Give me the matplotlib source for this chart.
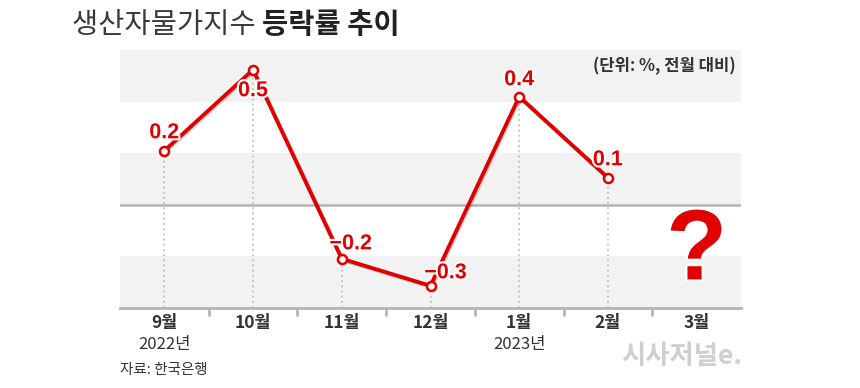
import matplotlib
matplotlib.use("Agg")
import matplotlib.pyplot as plt
import matplotlib.patheffects as pe
from matplotlib.patches import Rectangle

plt.rcParams['font.family'] = ['Noto Sans CJK KR', 'DejaVu Sans']

months = ['9월', '10월', '11월', '12월', '1월', '2월', '3월']
years = {0: '2022년', 4: '2023년'}
values = [0.2, 0.5, -0.2, -0.3, 0.4, 0.1]
value_labels = ['0.2', '0.5', '−0.2', '−0.3', '0.4', '0.1']
label_offsets_px = [(0, 18), (0, -21), (9, 15), (15, 13), (0, 17), (0, 18)]

RED = '#e00000'
GRAY_BAND = '#f2f2f2'
AXIS_GRAY = '#b4b4b4'
TXT = '#333333'

W, H = 860, 388
fig = plt.figure(figsize=(W / 100, H / 100), dpi=100)
ax = fig.add_axes([120 / W, (H - 308) / H, 621 / W, 258 / H])

R = 0.955
ax.set_ylim(-0.4 * R, 0.6 * R)
ax.set_xlim(-0.5, 6.5)

# bands (axes coordinates)
for i, col in enumerate([GRAY_BAND, 'white', GRAY_BAND, 'white', GRAY_BAND]):
    ax.add_patch(Rectangle((0, 1 - 0.2 * (i + 1)), 1, 0.2, transform=ax.transAxes,
                           facecolor=col, edgecolor='none', zorder=0))

ax.axhline(0, color=AXIS_GRAY, lw=1.8, zorder=1)

xs = list(range(len(values)))
ymin = ax.get_ylim()[0]
for x, v in zip(xs, values):
    ax.plot([x, x], [ymin, v], color='#b8b8b8', lw=1.1, ls=(0, (1.2, 2.2)), zorder=1)

ax.plot(xs, values, color=RED, lw=2.8, zorder=3, solid_joinstyle='miter',
        path_effects=[pe.SimpleLineShadow(offset=(1, -1), alpha=0.15), pe.Normal()])
ax.plot(xs, values, ls='none', marker='o', ms=6.5, mfc='white', mec=RED, mew=1.8, zorder=4)

for x, v, lab, (dx, dy) in zip(xs, values, value_labels, label_offsets_px):
    ax.annotate(lab, (x, v), xytext=(dx * 0.72, dy * 0.72), textcoords='offset points',
                ha='center', va='center', color=RED, fontsize=15.5, fontweight='bold',
                family=['Liberation Sans', 'DejaVu Sans'], zorder=5,
                path_effects=[pe.withStroke(linewidth=3, foreground='white')])

# question mark for 3월
ax.text(6, -0.18, '?', ha='center', va='center', color=RED, fontsize=72,
        fontweight='bold', family=['Liberation Sans', 'DejaVu Sans'], zorder=5,
        path_effects=[pe.SimplePatchShadow(offset=(0, -1.5), shadow_rgbFace='black', alpha=0.25),
                      pe.withStroke(linewidth=3.5, foreground='white')])

# axes styling
for s in ['top', 'right', 'left']:
    ax.spines[s].set_visible(False)
ax.spines['bottom'].set_color(AXIS_GRAY)
ax.spines['bottom'].set_linewidth(2)
ax.set_yticks([])
ax.set_xticks([i + 0.5 for i in range(len(months) - 1)], minor=False)
ax.set_xticklabels([])
ax.tick_params(axis='x', length=6, width=2, color=AXIS_GRAY, direction='out')
for i, m in enumerate(months):
    ax.annotate(m, (i, 0), xycoords=('data', 'axes fraction'), xytext=(0, -15 * 0.72),
                textcoords='offset points', ha='center', va='center', fontsize=12.5,
                fontweight='bold', color=TXT)
    if i in years:
        ax.annotate(years[i], (i, 0), xycoords=('data', 'axes fraction'),
                    xytext=(0, -37 * 0.72), textcoords='offset points', ha='center',
                    va='center', fontsize=12, color=TXT)

# title
t1 = fig.text(72 / W, 1 - 25 / H, '생산자물가지수 ', fontsize=20.5, fontweight='light',
              color='#3a3a3a', va='center', ha='left')
fig.canvas.draw()
bb = t1.get_window_extent()
fig.text(bb.x1 / W, 1 - 25 / H, '등락률 추이', fontsize=20.5, fontweight='bold',
         color='#222222', va='center', ha='left')

fig.text(736 / W, 1 - 66 / H, '(단위: %, 전월 대비)', fontsize=12, fontweight='bold',
         color=TXT, ha='right', va='center')
fig.text(120 / W, 1 - 370 / H, '자료: 한국은행', fontsize=10.5, color=TXT,
         ha='left', va='center')
fig.text(742 / W, 1 - 357 / H, '시사저널e.', fontsize=19, fontweight='bold',
         color='#cfcfcf', ha='right', va='center')

fig.savefig('out.png', dpi=100)
